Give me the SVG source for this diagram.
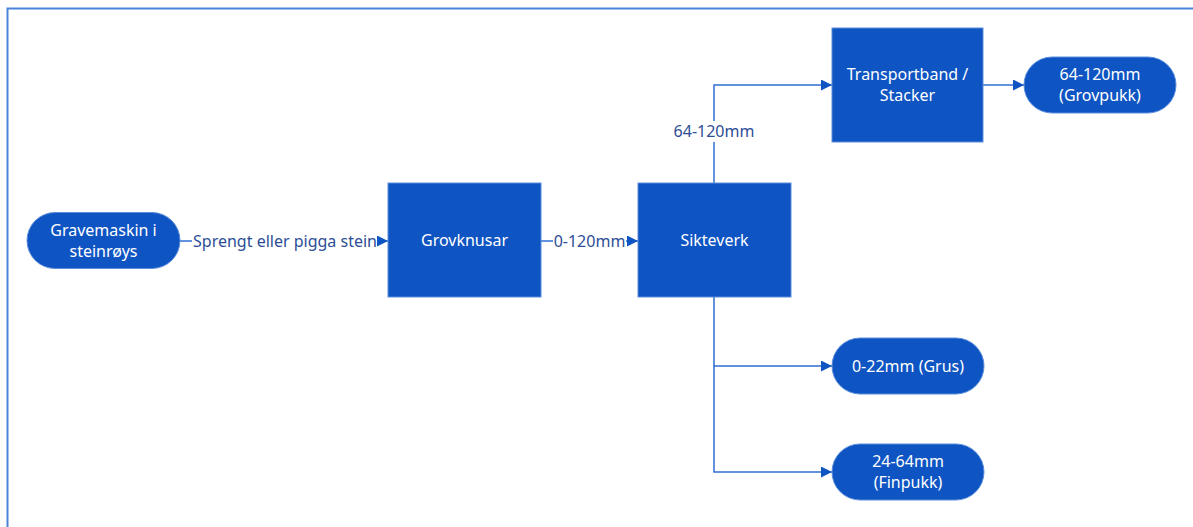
<svg xmlns="http://www.w3.org/2000/svg" width="1193" height="527" viewBox="0 0 1193 527">
<defs>
<style>
.node{fill:#0E54C2;stroke:#5B8EDC;stroke-width:1}
.nt{fill:#FFFFFF;font-family:"Noto Sans","Open Sans","DejaVu Sans",sans-serif;font-size:16px;text-anchor:middle}
.ln{fill:none;stroke:#2F6ED4;stroke-width:1.5}
.lt{fill:#2C4E96;font-family:"Noto Sans","Open Sans","DejaVu Sans",sans-serif;font-size:16px;text-anchor:middle}
</style>
<marker id="arr" viewBox="0 0 10 10" refX="10" refY="5" markerWidth="11" markerHeight="11" markerUnits="userSpaceOnUse" orient="auto">
<path d="M0,0 L10,5 L0,10 Z" fill="#0E54C2"/>
</marker>
</defs>
<rect width="1193" height="527" fill="#FFFFFF"/>
<polyline points="7.5,527 7.5,8.5 1193,8.5" fill="none" stroke="#4A82DC" stroke-width="2"/>
<g id="connectors">
<line class="ln" x1="180" y1="241" x2="192" y2="241"/>
<line class="ln" x1="378" y1="241" x2="388" y2="241" marker-end="url(#arr)"/>
<text class="lt" x="285" y="246.5">Sprengt eller pigga stein</text>
<line class="ln" x1="541" y1="241" x2="553" y2="241"/>
<line class="ln" x1="626" y1="241" x2="638" y2="241" marker-end="url(#arr)"/>
<text class="lt" x="589.5" y="246.5">0-120mm</text>
<polyline class="ln" points="714,183 714,142"/>
<polyline class="ln" points="714,121 714,85 832,85" marker-end="url(#arr)"/>
<text class="lt" x="714" y="137">64-120mm</text>
<line class="ln" x1="983" y1="85" x2="1024" y2="85" marker-end="url(#arr)"/>
<polyline class="ln" points="714,297 714,366 832,366" marker-end="url(#arr)"/>
<polyline class="ln" points="714,366 714,472 832,472" marker-end="url(#arr)"/>
</g>
<g id="gravemaskin">
<rect class="node" x="27" y="212.5" width="153" height="56" rx="28"/>
<text class="nt" x="103.5" y="236">Gravemaskin i</text>
<text class="nt" x="103.5" y="257">steinrøys</text>
</g>
<g id="grovknusar">
<rect class="node" x="388" y="183" width="153" height="114"/>
<text class="nt" x="464.5" y="246">Grovknusar</text>
</g>
<g id="sikteverk">
<rect class="node" x="638" y="183" width="153" height="114"/>
<text class="nt" x="714.5" y="246">Sikteverk</text>
</g>
<g id="transportband">
<rect class="node" x="832" y="28" width="151" height="114"/>
<text class="nt" x="907.5" y="80">Transportband /</text>
<text class="nt" x="907.5" y="101">Stacker</text>
</g>
<g id="grovpukk">
<rect class="node" x="1024" y="57" width="152" height="56" rx="28"/>
<text class="nt" x="1100" y="80">64-120mm</text>
<text class="nt" x="1100" y="101">(Grovpukk)</text>
</g>
<g id="grus">
<rect class="node" x="832" y="338" width="152" height="56" rx="28"/>
<text class="nt" x="908" y="371.5">0-22mm (Grus)</text>
</g>
<g id="finpukk">
<rect class="node" x="832" y="444" width="152" height="56" rx="28"/>
<text class="nt" x="908" y="467">24-64mm</text>
<text class="nt" x="908" y="488">(Finpukk)</text>
</g>
</svg>
